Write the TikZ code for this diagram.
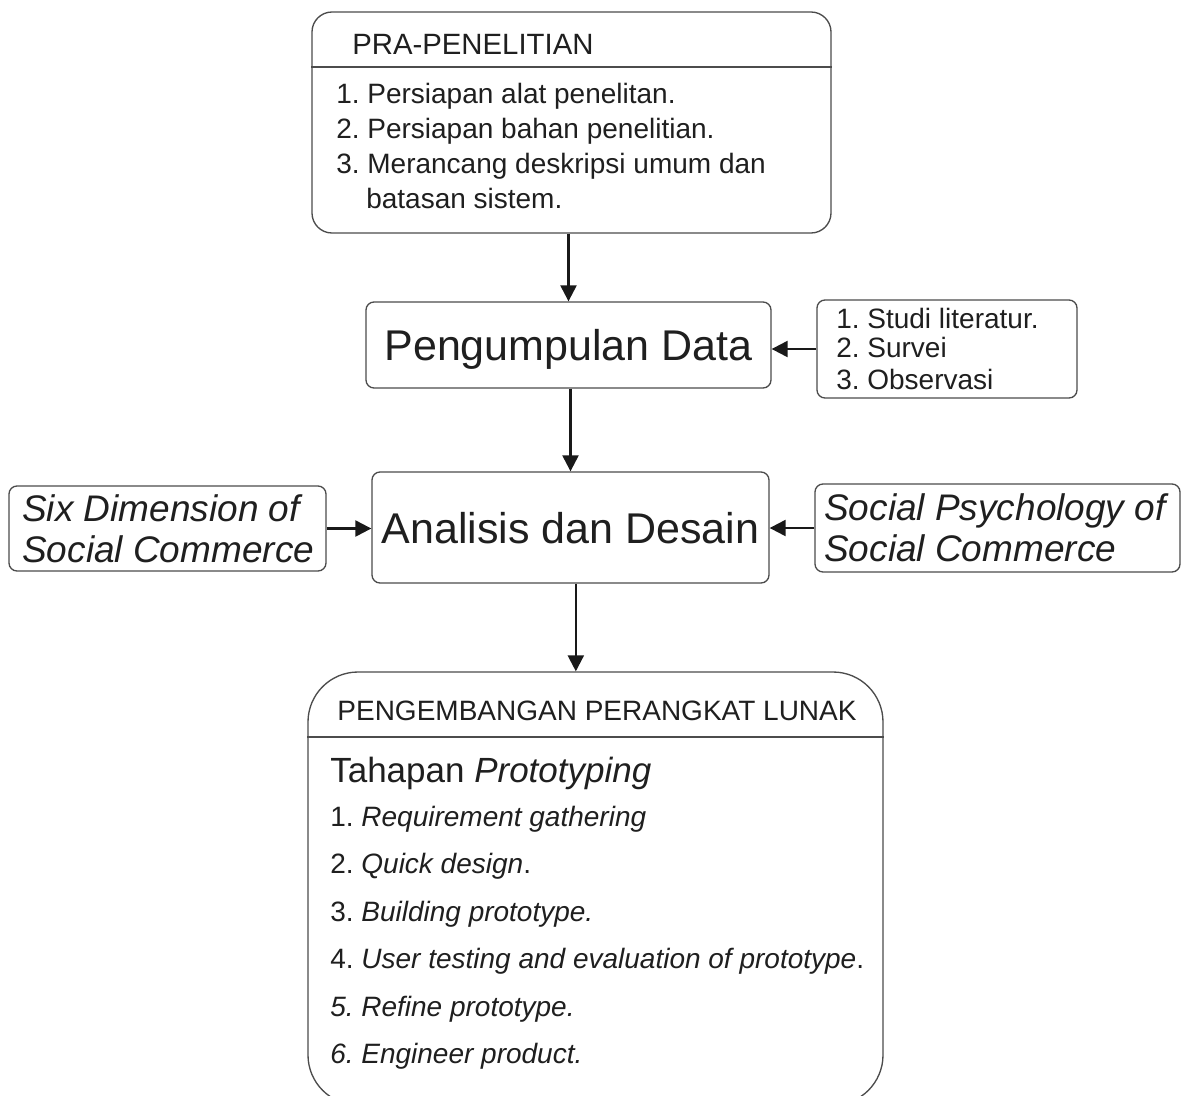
\documentclass[tikz,border=0pt]{standalone}
\usepackage{fontspec}
\setmainfont{Liberation Sans}
\usetikzlibrary{arrows.meta}
\frenchspacing
\newcommand\fsA{\fontsize{21}{25}\selectfont}
\newcommand\fsH{\fontsize{22}{25}\selectfont}
\newcommand\fsB{\fontsize{32.25}{38}\selectfont}
\newcommand\fsC{\fontsize{27.75}{31}\selectfont}
\newcommand\fsD{\fontsize{26.25}{30}\selectfont}
\begin{document}
\frenchspacing
\begin{tikzpicture}[x=0.75pt,y=-0.75pt,
  box/.style={draw=black!70, line width=1pt, inner sep=0pt},
  sep/.style={draw=black!70, line width=1pt},
  txt/.style={inner sep=0pt, anchor=base west, text=black!88},
  ctxt/.style={inner sep=0pt, anchor=base, text=black!88},
  ar/.style={line width=1.7pt, draw=black!90, -{Triangle[length=12pt,width=12pt]}}]
\useasboundingbox (0,0) rectangle (1186,1096);
\fill[white] (0,0) rectangle (1186,1096);

% top box
\node[box, rounded corners=15pt, minimum width=389.25pt, minimum height=165.75pt] (pra) at (571.5,122.5) {};
\coordinate (d1) at (0,67);
\draw[sep] (pra.west |- d1) -- (pra.east |- d1);
\node[txt, font=\fsH] (prah) at (352,54) {PRA-PENELITIAN};
\node[txt, font=\fsA] (p1) at (336,103) {1. Persiapan alat penelitan.};
\node[txt, font=\fsA] (p2) at (336,138) {2. Persiapan bahan penelitian.};
\node[txt, font=\fsA] (p3) at (336,173) {3. Merancang deskripsi umum dan};
\node[txt, font=\fsA] (p4) at (366,208.5) {batasan sistem.};

% pengumpulan data
\node[box, rounded corners=6pt, minimum width=303.75pt, minimum height=64.5pt] (peng) at (568.5,345) {};
\node[ctxt, font=\fsB] (pengt) at (568.5,360) {Pengumpulan Data};

% sources
\node[box, rounded corners=6pt, minimum width=195pt, minimum height=73.5pt] (src) at (947,349) {};
\node[txt, font=\fsA] (s1) at (836,328) {1. Studi literatur.};
\node[txt, font=\fsA] (s2) at (836,357) {2. Survei};
\node[txt, font=\fsA] (s3) at (836,389) {3. Observasi};

% analisis
\node[box, rounded corners=6pt, minimum width=297.75pt, minimum height=83.25pt] (ana) at (570.5,527.5) {};
\node[ctxt, font=\fsB] (anat) at (570.5,543) {Analisis dan Desain};

% left
\node[box, rounded corners=6pt, minimum width=237.75pt, minimum height=63.75pt] (six) at (167.5,528.5) {};
\node[txt, font=\fsC\itshape] (six1) at (22,521) {Six Dimension of};
\node[txt, font=\fsC\itshape] (six2) at (22,562) {Social Commerce};

% right
\node[box, rounded corners=6pt, minimum width=273.75pt, minimum height=66pt] (psy) at (997.5,528) {};
\node[txt, font=\fsC\itshape] (psy1) at (824,520) {Social Psychology of};
\node[txt, font=\fsC\itshape] (psy2) at (824,561) {Social Commerce};

% development
\node[box, rounded corners=37.5pt, minimum width=431.25pt, minimum height=324.75pt] (dev) at (595.5,888.5) {};
\coordinate (d2) at (0,737);
\draw[sep] (dev.west |- d2) -- (dev.east |- d2);
\node[ctxt, font=\fsA] (devh) at (597,720) {PENGEMBANGAN PERANGKAT LUNAK};
\node[txt, font=\fsD] (tah) at (330,782) {Tahapan \textit{Prototyping}};
\node[txt, font=\fsA] (q1) at (330,826) {1. \textit{Requirement gathering}};
\node[txt, font=\fsA] (q2) at (330,873) {2. \textit{Quick design}.};
\node[txt, font=\fsA] (q3) at (330,921) {3. \textit{Building prototype.}};
\node[txt, font=\fsA] (q4) at (330,968) {4. \textit{User testing and evaluation of prototype}.};
\node[txt, font=\fsA] (q5) at (330,1016) {\textit{5. Refine prototype.}};
\node[txt, font=\fsA] (q6) at (330,1063) {\textit{6. Engineer product.}};

% arrows
\draw[ar] (peng.north |- pra.south) -- (peng.north);
\draw[ar] (src.west) -- (src.west -| peng.east);
\draw[ar] (ana.north |- peng.south) -- (ana.north);
\draw[ar] (six.east) -- (six.east -| ana.west);
\draw[ar] (psy.west) -- (psy.west -| ana.east);
\draw[ar] ([xshift=4pt]ana.south) -- ([xshift=4pt]ana.south |- dev.north);
\end{tikzpicture}
\end{document}
